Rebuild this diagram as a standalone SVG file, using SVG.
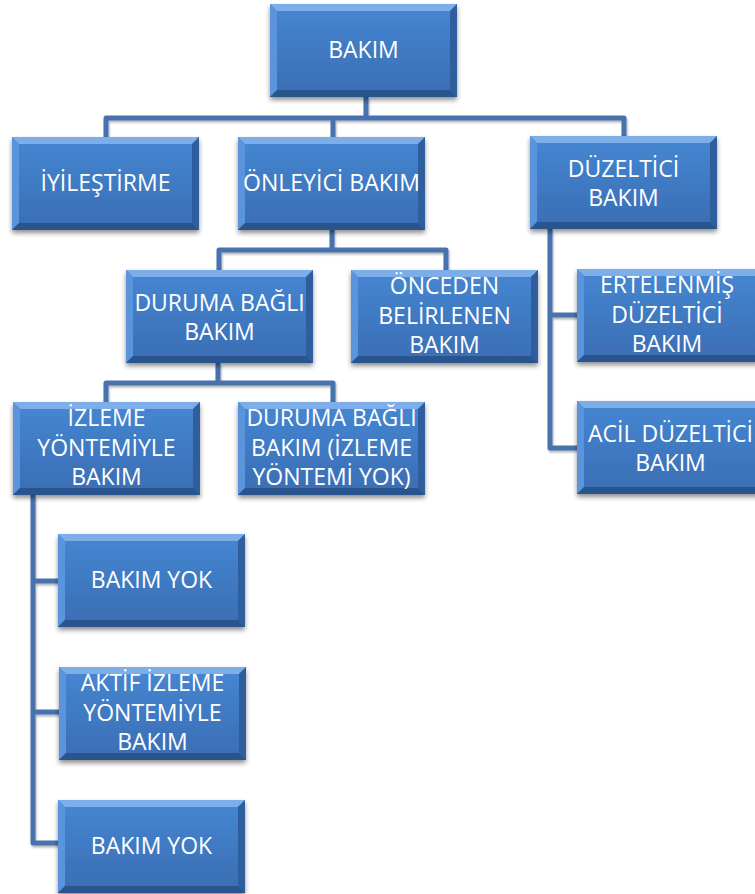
<svg xmlns="http://www.w3.org/2000/svg" xmlns:xlink="http://www.w3.org/1999/xlink" width="755" height="894" viewBox="0 0 755 894">
<style>
.lbl{font-family:"Open Sans","Liberation Sans",sans-serif;font-size:23px;fill:#ffffff;text-anchor:middle}
.conn{fill:none;stroke:#4672AD;stroke-width:5;stroke-linejoin:round;stroke-linecap:butt}
</style>
<defs>
<linearGradient id="gFill" x1="0" y1="0" x2="0" y2="1">
<stop offset="0" stop-color="#4687D3"/>
<stop offset="1" stop-color="#3A6DB3"/>
</linearGradient>
<filter id="shadow" x="-10%" y="-10%" width="120%" height="130%">
<feGaussianBlur in="SourceAlpha" stdDeviation="2.5"/>
<feOffset dy="3" result="b"/>
<feComponentTransfer><feFuncA type="linear" slope="0.45"/></feComponentTransfer>
<feMerge><feMergeNode/><feMergeNode in="SourceGraphic"/></feMerge>
</filter>
<filter id="lshadow" x="-10%" y="-10%" width="120%" height="120%">
<feGaussianBlur in="SourceAlpha" stdDeviation="1"/>
<feOffset dx="1" dy="1.5"/>
<feComponentTransfer><feFuncA type="linear" slope="0.3"/></feComponentTransfer>
<feMerge><feMergeNode/><feMergeNode in="SourceGraphic"/></feMerge>
</filter>
<g id="box">
<rect x="0" y="0" width="187" height="93" fill="url(#gFill)" filter="url(#shadow)"/>
<polygon points="0,0 187,0 180,7 7,7" fill="#7EAEEA"/>
<polygon points="0,0 7,7 7,86 0,93" fill="#5A94DC"/>
<polygon points="187,0 187,93 180,86 180,7" fill="#2F5E9E"/>
<polygon points="0,93 7,86 180,86 187,93" fill="#2A548E"/>
</g>
</defs>
<rect width="755" height="894" fill="#ffffff"/>
<g id="connectors" filter="url(#lshadow)">
<path class="conn" d="M366,97 V118"/>
<path class="conn" d="M106,137 V118 H624 V136"/>
<path class="conn" d="M333,118 V137"/>
<path class="conn" d="M332,229 V250"/>
<path class="conn" d="M219,270 V250 H446 V270"/>
<path class="conn" d="M218,363 V383"/>
<path class="conn" d="M106,402 V383 H333 V402"/>
<path class="conn" d="M550,229 V448 H577"/>
<path class="conn" d="M550,315 H577"/>
<path class="conn" d="M33,495 V843 H58"/>
<path class="conn" d="M33,581 H58"/>
<path class="conn" d="M33,712 H59"/>
</g>
<g id="n-bakim" transform="translate(270,4)"><use xlink:href="#box"/><text class="lbl" x="93.5" y="54">BAKIM</text></g>
<g id="n-iyilestirme" transform="translate(12,137)"><use xlink:href="#box"/><text class="lbl" x="93.5" y="54">İYİLEŞTİRME</text></g>
<g id="n-onleyici" transform="translate(238,137)"><use xlink:href="#box"/><text class="lbl" x="93.5" y="54">ÖNLEYİCİ BAKIM</text></g>
<g id="n-duzeltici" transform="translate(530,136)"><use xlink:href="#box"/><text class="lbl" x="93.5" y="41">DÜZELTİCİ</text><text class="lbl" x="93.5" y="70">BAKIM</text></g>
<g id="n-durumabagli" transform="translate(126,270)"><use xlink:href="#box"/><text class="lbl" x="93.5" y="41">DURUMA BAĞLI</text><text class="lbl" x="93.5" y="70">BAKIM</text></g>
<g id="n-onceden" transform="translate(351,270)"><use xlink:href="#box"/><text class="lbl" x="93.5" y="24">ÖNCEDEN</text><text class="lbl" x="93.5" y="53.5">BELİRLENEN</text><text class="lbl" x="93.5" y="83">BAKIM</text></g>
<g id="n-ertelenmis" transform="translate(577,269)"><use xlink:href="#box"/><text class="lbl" x="90" y="24">ERTELENMİŞ</text><text class="lbl" x="90" y="53.5">DÜZELTİCİ</text><text class="lbl" x="90" y="83">BAKIM</text></g>
<g id="n-acil" transform="translate(577,401)"><use xlink:href="#box"/><text class="lbl" x="93.5" y="41">ACİL DÜZELTİCİ</text><text class="lbl" x="93.5" y="70">BAKIM</text></g>
<g id="n-izleme" transform="translate(13,402)"><use xlink:href="#box"/><text class="lbl" x="93.5" y="24">İZLEME</text><text class="lbl" x="93.5" y="53.5">YÖNTEMİYLE</text><text class="lbl" x="93.5" y="83">BAKIM</text></g>
<g id="n-izlemeyok" transform="translate(238,402)"><use xlink:href="#box"/><text class="lbl" x="93.5" y="24">DURUMA BAĞLI</text><text class="lbl" x="93.5" y="53.5">BAKIM (İZLEME</text><text class="lbl" x="93.5" y="83">YÖNTEMİ YOK)</text></g>
<g id="n-bakimyok1" transform="translate(58,534)"><use xlink:href="#box"/><text class="lbl" x="93.5" y="54">BAKIM YOK</text></g>
<g id="n-aktif" transform="translate(59,667)"><use xlink:href="#box"/><text class="lbl" x="93.5" y="24">AKTİF İZLEME</text><text class="lbl" x="93.5" y="53.5">YÖNTEMİYLE</text><text class="lbl" x="93.5" y="83">BAKIM</text></g>
<g id="n-bakimyok2" transform="translate(58,800)"><use xlink:href="#box"/><text class="lbl" x="93.5" y="54">BAKIM YOK</text></g>
</svg>
